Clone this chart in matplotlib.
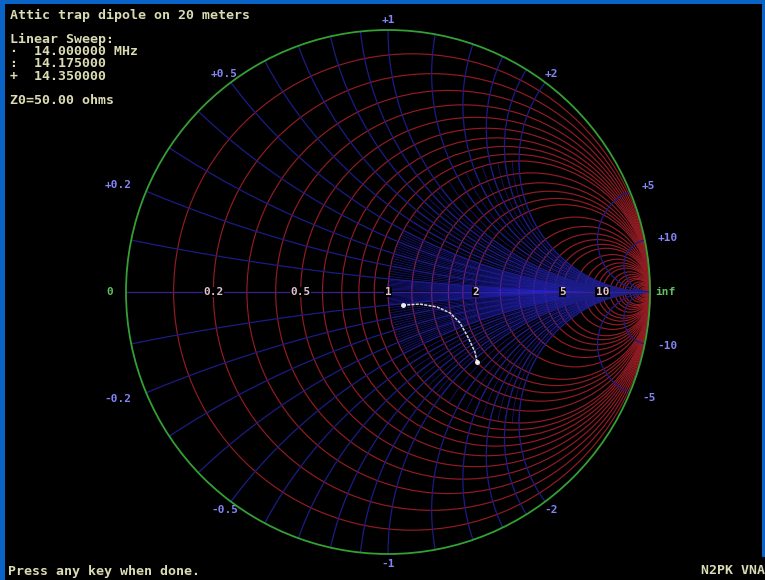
import numpy as np
import matplotlib
matplotlib.use('Agg')
import matplotlib.pyplot as plt
from matplotlib.patches import Circle, Rectangle

# normalised resistance circles
r_circles = [0.1, 0.2, 0.3, 0.4, 0.5, 0.6, 0.7, 0.8, 0.9, 1.0,
             1.2, 1.4, 1.6, 1.8, 2.0, 2.5, 3.0, 3.5, 4.0, 4.5, 5.0,
             6, 7, 8, 9, 10, 12, 14, 16, 18, 20, 25, 30, 35, 40, 50,
             60, 70, 80, 100, 120, 150, 200]
# normalised reactance arcs drawn over the whole chart
x_arcs = [0.1, 0.2, 0.3, 0.4, 0.5, 0.6, 0.7, 0.8, 0.9, 1.0,
          1.2, 1.4, 1.6, 1.8, 2.0, 5.0, 10]
# fine reactance arcs drawn only where r >= 1
x_fine = [0.01, 0.02, 0.03, 0.04, 0.05, 0.06, 0.07, 0.08, 0.09, 0.1,
          0.12, 0.14, 0.16, 0.18, 0.2, 0.22, 0.24, 0.26, 0.28, 0.3,
          0.32, 0.34, 0.36, 0.38, 0.4, 0.42, 0.44, 0.46, 0.48, 0.5,
          0.55, 0.6, 0.65, 0.7, 0.75, 0.8, 0.85, 0.9, 0.95, 1.0,
          1.1, 1.2, 1.3, 1.4, 1.5, 1.6, 1.7, 1.8, 1.9, 2.0]

r_labels = [0.2, 0.5, 1, 2, 5, 10]
x_labels = [0.2, 0.5, 1, 2, 5, 10]

# sweep 14.000 - 14.350 MHz, reflection coefficient
sweep_re = [0.057, 0.122, 0.187, 0.237, 0.275, 0.305, 0.332, 0.340]
sweep_im = [-0.050, -0.046, -0.057, -0.080, -0.118, -0.172, -0.229, -0.267]

header = ["Attic trap dipole on 20 meters", "", "Linear Sweep:",
          "\u00b7  14.000000 MHz", ":  14.175000", "+  14.350000", "",
          "Z0=50.00 ohms"]

W, H = 765, 580
CX, CY, R = 388, 292, 262

RED = '#921c24'
BLUE = '#1c1c84'
FINE = '#2a2aff'
GREEN = '#34a034'
TXT = '#dcdcb4'


def reactance_arc(x, r0):
    r = np.concatenate([np.linspace(r0, r0 + 1, 80),
                        np.logspace(np.log10(r0 + 1), 5, 200)])
    g = (r + 1j * x - 1) / (r + 1j * x + 1)
    return g.real, g.imag


fig = plt.figure(figsize=(W / 100, H / 100), dpi=100, facecolor='black')
ax = fig.add_axes([0, 0, 1, 1])
ax.set_facecolor('black')
ax.set_xlim(-CX / R, (W - CX) / R)
ax.set_ylim(-(H - CY) / R, CY / R)
ax.axis('off')

# resistance circles
for r in r_circles:
    ax.add_patch(Circle((r / (1 + r), 0), 1 / (1 + r), fill=False,
                        ec=RED, lw=0.85, zorder=2))

# fine arcs inside r >= 1
for x in x_fine:
    for s in (1, -1):
        gx, gy = reactance_arc(s * x, 1.0)
        ax.plot(gx, gy, color=FINE, lw=0.55, alpha=0.5, zorder=3)

# reactance arcs
for x in x_arcs:
    for s in (1, -1):
        gx, gy = reactance_arc(s * x, 0.0)
        ax.plot(gx, gy, color=BLUE, lw=0.9, zorder=3)
ax.plot([-1, 1], [0, 0], color='#3a2290', lw=0.9, zorder=3)

# outer circle
ax.add_patch(Circle((0, 0), 1, fill=False, ec=GREEN, lw=1.3, zorder=4))

# sweep
ax.plot(sweep_re, sweep_im, color='#d8d8d8', lw=1.1, ls=(0, (2, 0.8)), zorder=6)
ax.plot([sweep_re[0], sweep_re[-1]], [sweep_im[0], sweep_im[-1]], 'o',
        color='#f0f0f0', ms=2.5, zorder=7)

fnt = dict(family='DejaVu Sans Mono', fontweight='bold', fontsize=8)

# resistance labels on the real axis
for r in r_labels:
    g = (r - 1) / (r + 1)
    ax.text(g, 0, str(r), color='#e0c0d0', ha='center', va='center', zorder=8,
            bbox=dict(fc='black', ec='none', pad=0.3), **fnt)
ax.text(-1.05, 0, "0", color='#60c060', ha='right', va='center', **fnt)
ax.text(1.02, 0, "inf", color='#60c060', ha='left', va='center', **fnt)

# reactance labels round the rim
for x in x_labels:
    for s in (1, -1):
        th = np.pi - 2 * np.arctan(x)
        c = np.cos(th)
        if c > 0.8:
            ha, rr = 'left', 1.05
        elif c < -0.8:
            ha, rr = 'right', 1.06
        else:
            ha, rr = 'center', 1.04
        lab = ('+' if s > 0 else '-') + str(x)
        ax.text(rr * c, s * rr * np.sin(th), lab, color='#8484f4',
                ha=ha, va='center', **fnt)

# header and footer text
hfnt = dict(fnt, fontsize=9.5)
for i, line in enumerate(header):
    fig.text(10 / W, 1 - (15 + i * 12.2) / H, line, color=TXT,
             ha='left', va='center', **hfnt)
fig.text(8 / W, 1 - 571 / H, "Press any key when done.", color=TXT,
         ha='left', va='center', **hfnt)
fig.text(765 / W, 1 - 571 / H, "N2PK VNA", color=TXT,
         ha='right', va='center', **hfnt)

# blue window frame
for rect in [(0, 0, 5 / W, 1), (0, 1 - 4 / H, 1, 4 / H), (1 - 3 / W, 0.04, 3 / W, 0.96)]:
    fig.patches.append(Rectangle(rect[:2], rect[2], rect[3], transform=fig.transFigure,
                                 fc='#0a64c8', ec='none', zorder=10))

fig.savefig('out.png', dpi=100, facecolor='black')
